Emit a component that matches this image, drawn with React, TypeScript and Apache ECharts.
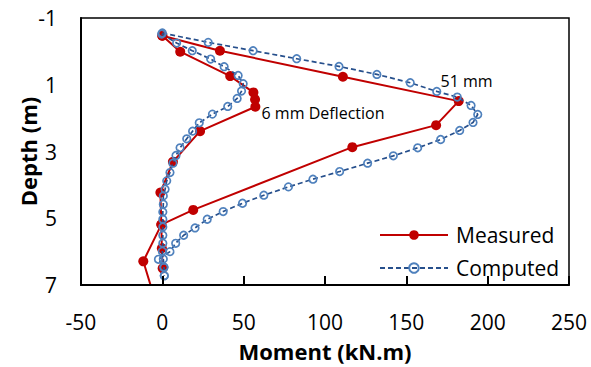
import React, { useEffect, useRef } from "react";
import * as echarts from "echarts";

// Measured profile, 51 mm deflection
const measured51Moment = [0, 35.4, 111.0, 182.2, 168.3, 116.8, 19.0, -0.6, -11.7, -6.2];
const measured51Depth = [-0.47, -0.02, 0.76, 1.49, 2.21, 2.87, 4.75, 5.19, 6.29, 7.17];
// Measured profile, 6 mm deflection
const measured6Moment = [0, 11.0, 41.7, 56.0, 57.0, 57.2, 23.2, 6.5, -1.2, -0.6, -0.3, 0.2];
const measured6Depth = [-0.47, 0.01, 0.74, 1.23, 1.44, 1.66, 2.39, 3.31, 4.23, 5.19, 5.9, 6.5];
// Computed profile, 51 mm deflection
const computed51Moment = [0, 28.2, 55.8, 82.6, 108.6, 131.9, 152.4, 168.7, 181.3, 189.8, 193.9, 191.0, 182.8, 171.1, 157.0, 142.0, 126.2, 109.0, 92.6, 77.5, 62.4, 49.3, 37.4, 27.6, 20.1, 13.1, 8.2, 4.7, -2.4, 1.0, 1.2];
const computed51Depth = [-0.55, -0.27, -0.02, 0.22, 0.45, 0.69, 0.94, 1.2, 1.37, 1.62, 1.89, 2.13, 2.37, 2.64, 2.89, 3.13, 3.35, 3.6, 3.83, 4.06, 4.31, 4.55, 4.8, 5.03, 5.29, 5.51, 5.75, 6.0, 6.23, 6.47, 6.72];
// Computed profile, 6 mm deflection
const computed6Moment = [-0.4, 8.8, 18.4, 29.7, 38.0, 46.6, 49.7, 48.7, 46.0, 40.2, 30.8, 22.7, 18.6, 15.0, 10.9, 8.4, 6.5, 4.7, 2.7, 1.7, 0.6, 0.6, 0.3, 0.3, 0.3, 0.3, 0.3, 0.0, 0.6, 1.0, 1.2];
const computed6Depth = [-0.52, -0.25, -0.02, 0.23, 0.46, 0.72, 0.97, 1.19, 1.41, 1.65, 1.88, 2.14, 2.39, 2.62, 2.89, 3.12, 3.35, 3.63, 3.88, 4.13, 4.33, 4.58, 4.81, 5.03, 5.26, 5.51, 5.75, 5.99, 6.22, 6.47, 6.72];

const legendNames = ["Measured", "Computed"];
const annotationTexts = ["6 mm Deflection", "51 mm"];
const annotationCoords = [
  [61, 1.86],
  [171, 0.88],
];

const FONT = "'Open Sans', 'Liberation Sans', sans-serif";
const RED = "#C00000";
const BLUE_LINE = "#264F8C";
const BLUE_MARK = "#4F81BD";

const pairs = (xs: number[], ys: number[]) => xs.map((x, i) => [x, ys[i]]);

export default function App() {
  const ref = useRef<HTMLDivElement>(null);

  useEffect(() => {
    if (!ref.current) return;
    const chart = echarts.init(ref.current, null, { renderer: "svg" });

    const measuredStyle = {
      type: "line" as const,
      name: legendNames[0],
      symbol: "circle",
      symbolSize: 10,
      itemStyle: { color: RED },
      lineStyle: { color: RED, width: 2 },
      z: 2,
    };
    const computedStyle = {
      type: "line" as const,
      name: legendNames[1],
      symbol: "circle",
      symbolSize: 7.5,
      itemStyle: { color: "rgba(255,255,255,0)", borderColor: BLUE_MARK, borderWidth: 1.7 },
      lineStyle: { color: BLUE_LINE, width: 1.7, type: [5, 3] },
      z: 3,
    };

    chart.setOption({
      animation: false,
      backgroundColor: "#fff",
      textStyle: { fontFamily: FONT },
      grid: {
        left: 81,
        right: 22,
        top: 18,
        bottom: 81,
        show: true,
        borderColor: "#000",
        borderWidth: 1.5,
        backgroundColor: "transparent",
      },
      legend: {
        data: legendNames,
        orient: "vertical",
        left: 374,
        top: 219,
        itemWidth: 68,
        itemHeight: 12,
        itemGap: 11,
        textStyle: { fontSize: 21, color: "#000", fontFamily: FONT, lineHeight: 22, padding: [0, 0, 0, 3] },
      },
      xAxis: {
        type: "value",
        min: -50,
        max: 250,
        interval: 50,
        name: "Moment (kN.m)",
        nameLocation: "middle",
        nameGap: 55,
        nameMoveOverlap: false,
        nameTextStyle: { fontSize: 22, fontWeight: "bold", color: "#000", fontFamily: FONT },
        axisLine: { show: true, onZero: false, lineStyle: { color: "#000", width: 2 } },
        axisTick: { show: true, inside: true, length: 9, lineStyle: { color: "#000", width: 2 } },
        axisLabel: { fontSize: 21, color: "#000", margin: 26, fontFamily: FONT },
        splitLine: { show: false },
        z: 5,
      },
      yAxis: {
        type: "value",
        inverse: true,
        min: -1,
        max: 7,
        interval: 2,
        name: "Depth (m)",
        nameLocation: "middle",
        nameGap: 42,
        nameMoveOverlap: false,
        nameRotate: 90,
        nameTextStyle: { fontSize: 22, fontWeight: "bold", color: "#000", fontFamily: FONT },
        axisLine: { show: true, onZero: false, lineStyle: { color: "#000", width: 2 } },
        axisTick: { show: false },
        axisLabel: { fontSize: 21, color: "#000", margin: 24, fontFamily: FONT },
        splitLine: { show: false },
      },
      series: [
        {
          ...measuredStyle,
          data: pairs(measured51Moment, measured51Depth),
          markPoint: {
            symbol: "circle",
            symbolSize: 0,
            label: {
              show: true,
              position: "right",
              distance: 0,
              formatter: "{b}",
              fontSize: 16,
              color: "#000",
              fontFamily: FONT,
            },
            data: annotationTexts.map((t, i) => ({ name: t, coord: annotationCoords[i] })),
          },
        },
        { ...measuredStyle, data: pairs(measured6Moment, measured6Depth) },
        { ...computedStyle, data: pairs(computed51Moment, computed51Depth) },
        { ...computedStyle, data: pairs(computed6Moment, computed6Depth) },
      ],
    });

    return () => chart.dispose();
  }, []);

  return <div ref={ref} style={{ width: 591, height: 367, position: "absolute", left: 0, top: 0 }} />;
}
